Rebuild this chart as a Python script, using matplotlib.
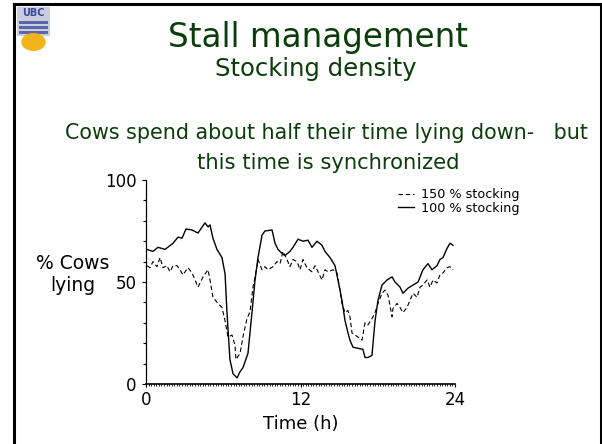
import numpy as np
import matplotlib.pyplot as plt
from matplotlib.patches import Rectangle, Circle
from matplotlib.lines import Line2D

# Data (time in hours, % of cows lying)
t_100 = [0.05, 0.54, 0.93, 1.48, 2.10, 2.49, 2.80, 3.11, 3.57, 4.04, 4.58, 4.82, 4.97,
         5.20, 5.51, 5.90, 6.14, 6.29, 6.52, 6.76, 7.07, 7.30, 7.53, 7.92, 8.23, 8.47,
         8.70, 9.01, 9.24, 9.79, 10.02, 10.25, 10.56, 10.80, 11.18, 11.42, 11.81, 12.19,
         12.58, 12.89, 13.28, 13.67, 13.90, 14.29, 14.68, 14.91, 15.22, 15.46, 15.69,
         15.84, 16.08, 16.47, 16.85, 17.01, 17.24, 17.55, 17.79, 18.02, 18.33, 18.72,
         19.11, 19.34, 19.73, 19.96, 20.35, 20.74, 21.13, 21.51, 21.90, 22.21, 22.60,
         22.83, 23.07, 23.38, 23.61, 23.84]
lying_100 = [66, 65, 67, 66, 69, 72, 71.5, 76, 75.5, 74, 79, 77, 78,
             71.5, 66, 62, 54, 35, 12, 5, 3, 6, 8, 15, 35, 51,
             62, 73, 75, 75.5, 69, 66, 64, 63, 65, 67, 71, 70,
             70.5, 67, 70, 68, 65, 62, 58, 51, 41, 31, 25,
             21.5, 18, 17.5, 17, 13, 13, 14, 31, 41, 48.5, 51,
             52.5, 50, 47.5, 44.5, 47, 48.5, 50, 56, 59, 56, 58,
             61, 62, 66.5, 69, 68]

t_150 = [0.08, 0.31, 0.54, 0.85, 1.09, 1.32, 1.63, 1.86, 2.10, 2.41, 2.64, 2.87, 3.26,
         3.57, 3.81, 4.04, 4.43, 4.82, 4.97, 5.20, 5.59, 5.90, 6.14, 6.37, 6.68, 6.91,
         6.99, 7.30, 7.53, 7.84, 8.08, 8.31, 8.62, 8.70, 9.01, 9.24, 9.48, 9.86, 10.17,
         10.41, 10.64, 10.95, 11.18, 11.42, 11.73, 11.96, 12.19, 12.50, 12.89, 13.13,
         13.36, 13.67, 13.90, 14.14, 14.52, 14.83, 15.07, 15.22, 15.46, 15.69, 15.84,
         16.00, 16.23, 16.47, 16.78, 17.01, 17.24, 17.55, 17.79, 18.02, 18.33, 18.56,
         18.80, 19.11, 19.18, 19.50, 19.73, 19.96, 20.27, 20.50, 20.74, 21.05, 21.28,
         21.51, 21.83, 22.06, 22.29, 22.60, 22.83, 23.07, 23.38, 23.61, 23.84]
lying_150 = [58, 57, 60, 57.5, 62, 57, 58, 55, 58, 58, 56, 53.5, 57,
             54.5, 51, 47.5, 52.5, 56, 51, 42.5, 39.5, 37.5, 31, 23, 24, 19,
             12, 15, 23, 32, 35.5, 47.5, 57.5, 61, 56, 57.5, 56, 57.5, 60,
             59, 65, 61, 57.5, 61, 60, 56, 61, 57, 55, 58,
             55, 51, 56, 55, 56, 54.5, 46, 39.5, 35, 36, 33,
             25, 24, 23, 21.5, 30, 29, 32, 35, 39.5, 44.5, 46,
             43.5, 33, 37, 39.5, 37.5, 35, 37.5, 41, 44.5, 42.5, 47.5,
             48.5, 51, 47.5, 51, 49.5, 53.5, 54.5, 57, 57.5, 56]

green = '#0b3d0b'
W, H = 602, 444

fig = plt.figure(figsize=(6.02, 4.44), dpi=100)

# slide border
fig.add_artist(Line2D([13.5 / W, 13.5 / W], [0, 1 - 4 / H], color='black', lw=2.2))
fig.add_artist(Line2D([13.5 / W, 600.5 / W], [1 - 4.5 / H, 1 - 4.5 / H], color='black', lw=2.2))
fig.add_artist(Line2D([600.5 / W, 600.5 / W], [0, 1 - 4 / H], color='black', lw=2.2))

# rough UBC logo
fig.add_artist(Rectangle((17 / W, 1 - 36 / H), 33 / W, 29 / H, facecolor='#c8cde0',
                         edgecolor='none'))
fig.text(33.5 / W, 1 - 13 / H, 'UBC', color='#3a4a9a', fontsize=7, fontweight='bold',
         ha='center', va='center')
for yy in (22, 27, 32):
    fig.add_artist(Rectangle((19 / W, 1 - (yy + 2) / H), 29 / W, 3 / H,
                             facecolor='#5a66a8', edgecolor='none'))
fig.add_artist(Circle((33.5 / W, 1 - 42 / H), 9 / H, facecolor='#f2b21a', edgecolor='none',
                      transform=fig.transFigure))

# titles
fig.text(318 / W, 1 - 37 / H, 'Stall management', color=green, fontsize=23.5,
         ha='center', va='center')
fig.text(316 / W, 1 - 69 / H, 'Stocking density', color=green, fontsize=17.5,
         ha='center', va='center')
fig.text(326 / W, 1 - 133 / H, 'Cows spend about half their time lying down-   but',
         color=green, fontsize=14.9, ha='center', va='center')
fig.text(328 / W, 1 - 163 / H, 'this time is synchronized', color=green, fontsize=15.2,
         ha='center', va='center')

ax = fig.add_axes([146 / W, 1 - 384 / H, 309 / W, 204 / H])
ax.plot(t_150, lying_150, color='black', lw=0.8, dashes=(4, 2.5), label='150 % stocking')
ax.plot(t_100, lying_100, color='black', lw=1.0, label='100 % stocking')

ax.set_xlim(0, 24)
ax.set_ylim(0, 100)
ax.set_xticks([0, 12, 24])
ax.set_yticks([0, 50, 100])
ax.set_yticks(np.arange(0, 101, 10), minor=True)
ax.set_xticks(np.arange(0, 24.01, 0.2), minor=True)
ax.tick_params(axis='both', labelsize=12, width=0.8)
ax.tick_params(axis='y', which='major', length=3, pad=4)
ax.tick_params(axis='y', which='minor', length=2.5, width=0.8)
ax.tick_params(axis='x', which='major', length=2, pad=3)
ax.tick_params(axis='x', which='minor', length=1.2, width=0.6)
for s in ('top', 'right'):
    ax.spines[s].set_visible(False)
ax.spines['left'].set_linewidth(0.9)
ax.spines['bottom'].set_linewidth(1.2)

ax.set_xlabel('Time (h)', fontsize=13, labelpad=4)
fig.text(73 / W, 1 - 274 / H, '% Cows\nlying', fontsize=13.5, ha='center', va='center',
         linespacing=1.2)

handles, labels = ax.get_legend_handles_labels()
ax.legend(handles, labels, loc='upper left', bbox_to_anchor=(0.815, 0.96), frameon=False,
          fontsize=9.2, handlelength=1.25, handletextpad=0.6, labelspacing=0.05,
          borderpad=0, borderaxespad=0)

fig.savefig('out.png', dpi=100)
